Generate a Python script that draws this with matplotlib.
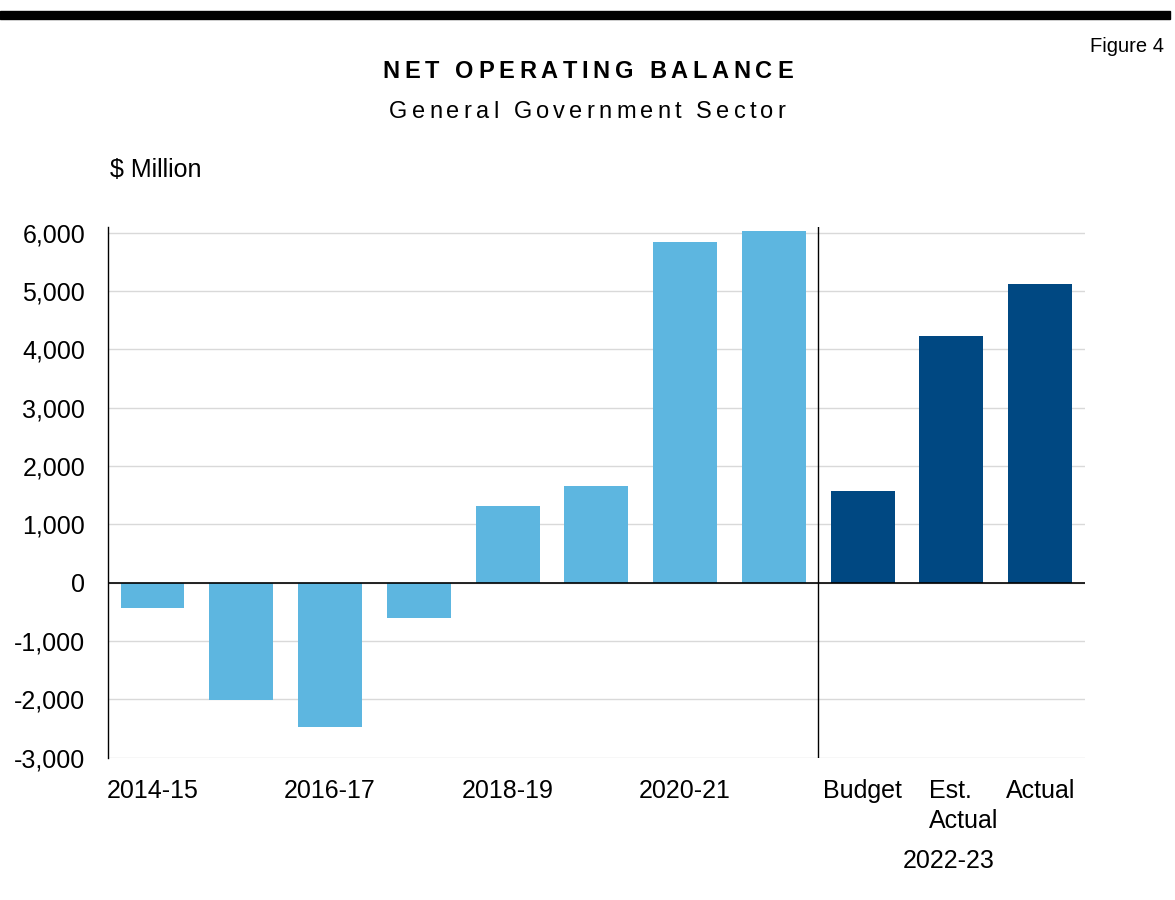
import numpy as np
import matplotlib.pyplot as plt
from matplotlib.patches import Rectangle
from matplotlib.font_manager import FontProperties
from matplotlib.transforms import ScaledTranslation

plt.rcParams['font.family'] = ['Liberation Sans', 'DejaVu Sans']

years = ['2014-15', '2015-16', '2016-17', '2017-18', '2018-19', '2019-20', '2020-21', '2021-22']
year_values = [-440, -2010, -2475, -610, 1310, 1665, 5835, 6025]
est_labels = ['Budget', 'Est.\nActual', 'Actual']
est_values = [1580, 4225, 5115]
tick_labels = ['2014-15', '', '2016-17', '', '2018-19', '', '2020-21', '', 'Budget', 'Est.\nActual', 'Actual']

light_blue = '#5DB6E0'
dark_blue = '#004882'


def tracked_text(fig, xc, y, s, track_px, size, weight='normal'):
    # lay out a string one letter at a time with extra letter spacing
    r = fig.canvas.get_renderer()
    prop = FontProperties(family='Liberation Sans', size=size, weight=weight)
    widths = [r.get_text_width_height_descent(ch, prop, ismath=False)[0] for ch in s]
    total = sum(widths) + track_px * (len(s) - 1)
    x = xc * fig.bbox.width - total / 2
    for ch, w in zip(s, widths):
        fig.text(x / fig.bbox.width, y, ch, ha='left', va='center', fontproperties=prop)
        x += w + track_px


fig = plt.figure(figsize=(11.75, 9), dpi=100)
ax = fig.add_axes([0.092, 0.158, 0.831, 0.59])

x_years = np.arange(len(years))
x_est = np.arange(len(years), len(years) + len(est_values))
ax.bar(x_years, year_values, width=0.72, color=light_blue, zorder=2)
ax.bar(x_est, est_values, width=0.72, color=dark_blue, zorder=2)

ax.set_xlim(-0.5, 10.5)
ax.set_ylim(-3000, 6100)
ax.set_yticks(range(-3000, 6001, 1000))
ax.set_yticklabels([f'{v:,}' for v in range(-3000, 6001, 1000)], fontsize=18)
ax.yaxis.grid(True, color='#d9d9d9', linewidth=1, zorder=0)
ax.axhline(0, color='black', linewidth=1.2, zorder=3)
ax.axvline(7.5, color='black', linewidth=1, zorder=3)

ax.set_xticks(range(len(tick_labels)))
ax.set_xticklabels(tick_labels, fontsize=18, va='top', multialignment='left', linespacing=1.33)
ax.tick_params(length=0)
ax.tick_params(axis='x', pad=15)
ax.tick_params(axis='y', pad=16.5)

# nudge the two-line label a little to the right
est_lab = ax.get_xticklabels()[9]
est_lab.set_transform(est_lab.get_transform() + ScaledTranslation(12 / 100, 0, fig.dpi_scale_trans))

for side in ['top', 'right', 'bottom']:
    ax.spines[side].set_visible(False)
ax.spines['left'].set_color('black')
ax.spines['left'].set_linewidth(1)

# heavy rule across the top
fig.patches.append(Rectangle((0, 0.979), 0.996, 0.009, transform=fig.transFigure,
                             color='black', zorder=5))

fig.text(0.9906, 0.948, 'Figure 4', ha='right', va='center', fontsize=14.5)
tracked_text(fig, 0.5, 0.92, 'NET OPERATING BALANCE', 4.7, 17, weight='bold')
tracked_text(fig, 0.5, 0.8756, 'General Government Sector', 4.2, 17)
fig.text(0.094, 0.811, '$ Million', ha='left', va='center', fontsize=18)
fig.text(0.807, 0.0433, '2022-23', ha='center', va='center', fontsize=18)

fig.savefig('out.png', dpi=100)
